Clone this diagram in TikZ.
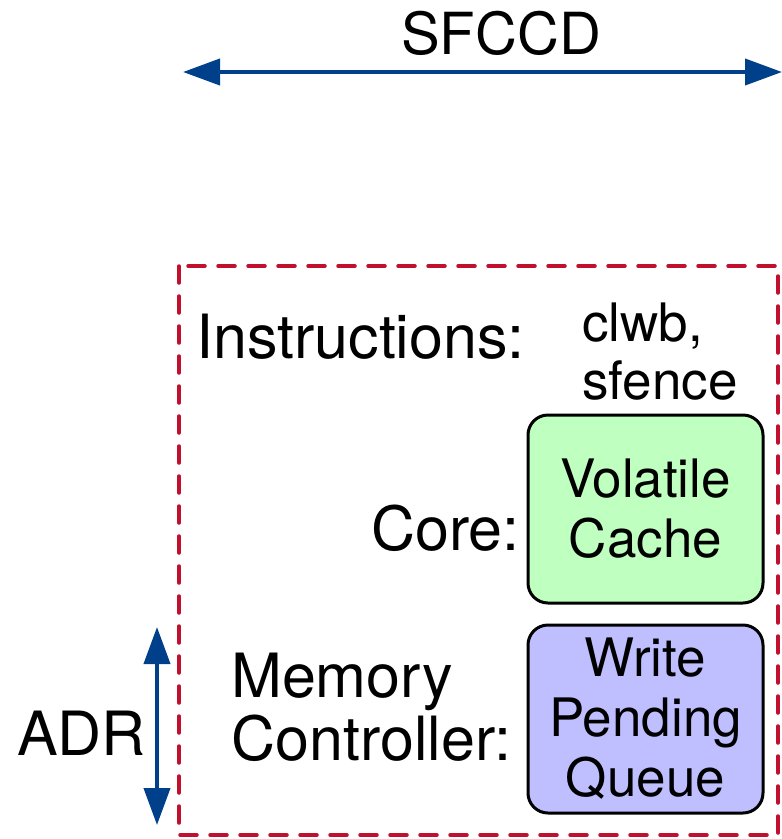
\documentclass[tikz,border=0pt]{standalone}
\usepackage{fontspec}
\setmainfont{TeX Gyre Heros}
\usetikzlibrary{arrows.meta}
\definecolor{arrowblue}{RGB}{0,64,138}
\definecolor{zonered}{RGB}{192,16,46}
\definecolor{cachegreen}{RGB}{191,255,191}
\definecolor{queueblue}{RGB}{191,191,255}
\begin{document}
\begin{tikzpicture}[x=1pt,y=-1pt,
  biglabel/.style={font=\fontsize{61}{70}\selectfont, inner sep=0pt, anchor=base west},
  smalllabel/.style={font=\fontsize{53}{60}\selectfont, inner sep=0pt, anchor=base west},
  unitbox/.style={draw=black, line width=3pt, rounded corners=20pt,
    minimum width=235pt, minimum height=188pt, inner sep=0pt, align=center,
    font=\fontsize{53}{60}\selectfont},
  span/.style={draw=arrowblue, line width=4pt,
    {Triangle[length=37pt,width=26pt]}-{Triangle[length=37pt,width=26pt]}},
  zone/.style={draw=zonered, line width=3.5pt, line cap=round, dash pattern=on 17pt off 13pt}]
  \useasboundingbox (0,0) rectangle (782,839);

  % SFCCD span across the top
  \coordinate (sfL) at (183,72);
  \coordinate (sfR) at (782,72);
  \draw[span] (sfL) -- (sfR);
  \node[font=\fontsize{58}{66}\selectfont, inner sep=0pt, anchor=base] (sfccd) at (501,54) {SFCCD};

  % dashed persistence domain
  \draw[zone] (179,266) rectangle (778,835);

  % instruction row
  \node[biglabel] (instr) at (196,358) {Instructions:};
  \node[smalllabel] (clwb) at (582,341) {clwb,};
  \node[smalllabel] (sfence) at (582,399) {sfence};

  % core row
  \node[unitbox, fill=cachegreen] (cache) at (645.5,509) {Volatile\\Cache};
  \node[biglabel] (core) at (371,550) {Core:};

  % memory controller row
  \node[unitbox, fill=queueblue] (wpq) at (645.5,719) {Write\\Pending\\Queue};
  \node[biglabel] (mem) at (231,697) {Memory};
  \node[biglabel] (ctrl) at (231,760) {Controller:};

  % ADR span
  \coordinate (adrT) at (157,627);
  \coordinate (adrB) at (157,825);
  \draw[span] (adrT) -- (adrB);
  \node[biglabel] (adr) at (17,755) {ADR};
\end{tikzpicture}
\end{document}
